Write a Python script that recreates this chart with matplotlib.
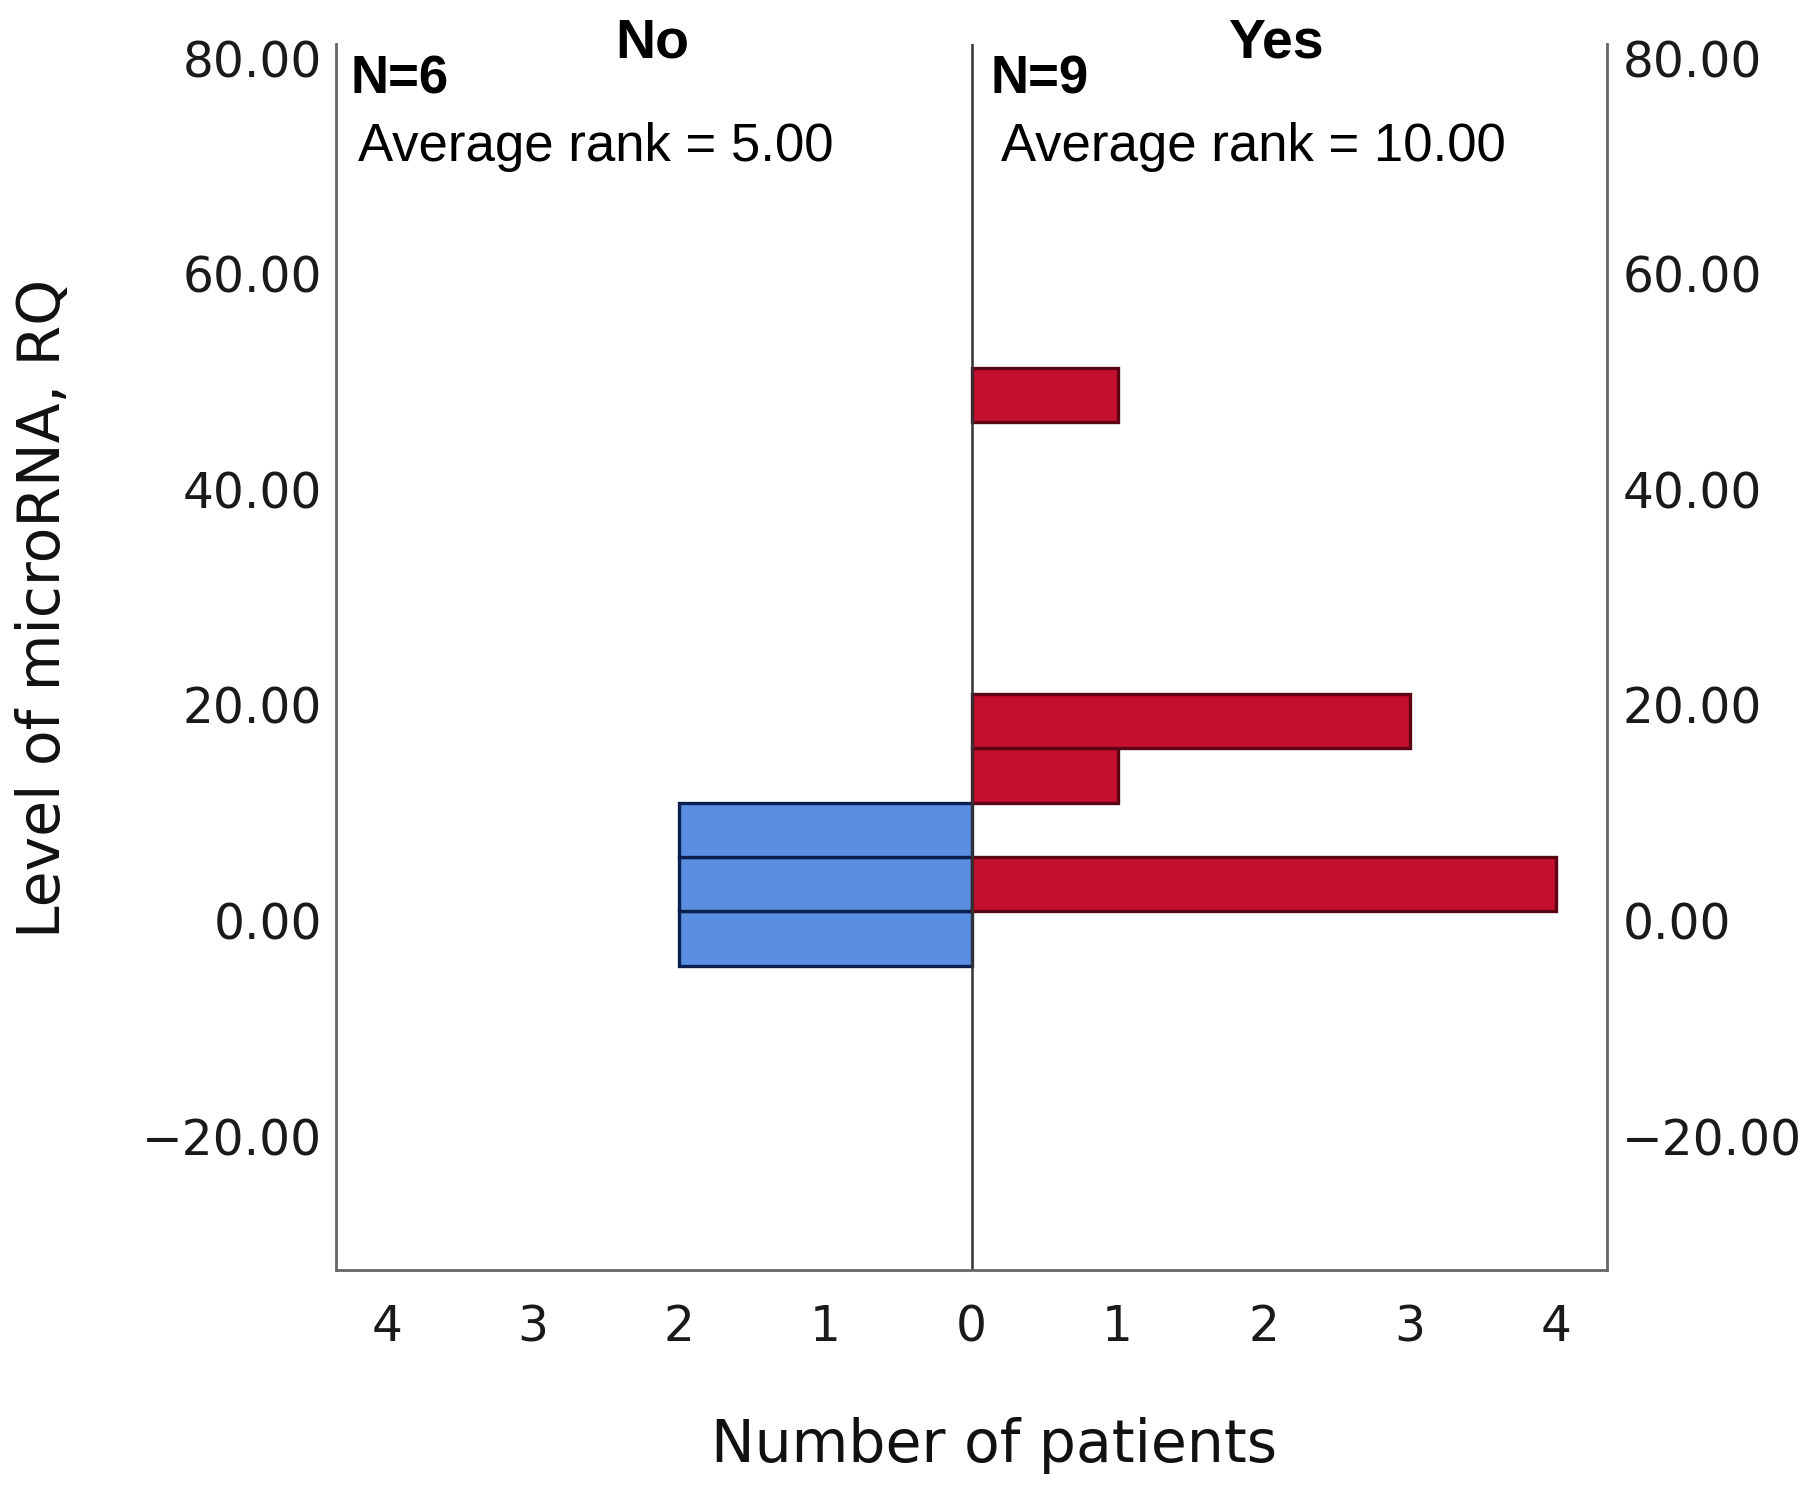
import matplotlib.pyplot as plt
import numpy as np

# histogram bins (lower edge of each bar, RQ units)
bin_width = 5.05
no_bin_low = [-4.2, 0.85, 5.9]
no_counts = [2, 2, 2]
yes_bin_low = [0.85, 10.95, 16.0, 46.2]
yes_counts = [4, 1, 3, 1]

y_ticks = [-20, 0, 20, 40, 60, 80]
x_ticks = [-4, -3, -2, -1, 0, 1, 2, 3, 4]


def fmt(v):
    return ('%.2f' % v).replace('-', '\u2212')


W, H = 1811, 1498
fig = plt.figure(figsize=(W / 100, H / 100), dpi=100)
ax = fig.add_axes([336 / W, 1 - 1270 / H, (1607 - 336) / W, (1270 - 44) / H])

ax.barh(no_bin_low, [-c for c in no_counts], height=bin_width, align='edge',
        color='#5a8ee0', edgecolor='#0b1f4f', linewidth=2.4)
ax.barh(yes_bin_low, yes_counts, height=bin_width, align='edge',
        color='#c4102f', edgecolor='#5c0414', linewidth=2.4)

ax.axvline(0, color='#333333', linewidth=1.8)

ax.set_xlim(-4.35, 4.35)
ax.set_ylim(-32.4, 81.3)

ax.set_yticks(y_ticks)
ax.set_yticklabels([fmt(v) for v in y_ticks])
ax.set_xticks(x_ticks)
ax.set_xticklabels([str(abs(v)) for v in x_ticks])

for s in ['left', 'right', 'bottom']:
    ax.spines[s].set_color('#666666')
    ax.spines[s].set_linewidth(2.0)
ax.spines['top'].set_visible(False)

ax.tick_params(axis='y', length=0, pad=10, labelsize=35, colors='#1a1a1a')
ax.tick_params(axis='x', length=0, pad=24, labelsize=35, colors='#1a1a1a')

ax2 = ax.twinx()
ax2.set_ylim(ax.get_ylim())
ax2.set_yticks(y_ticks)
ax2.set_yticklabels([fmt(v) for v in y_ticks])
ax2.tick_params(axis='y', length=0, pad=11, labelsize=35, colors='#1a1a1a')
for s in ['left', 'right', 'bottom', 'top']:
    ax2.spines[s].set_visible(False)

arial = ['Liberation Sans', 'DejaVu Sans']
fig.text(652 / W, 1 - 43 / H, 'No', ha='center', va='center', fontsize=40,
         fontweight='bold', family=arial)
fig.text(1276 / W, 1 - 43 / H, 'Yes', ha='center', va='center', fontsize=40,
         fontweight='bold', family=arial)

fig.text(350 / W, 1 - 80 / H, 'N=6', ha='left', va='center', fontsize=38,
         fontweight='bold', family=arial)
fig.text(991 / W, 1 - 80 / H, 'N=9', ha='left', va='center', fontsize=38,
         fontweight='bold', family=arial)
fig.text(358 / W, 1 - 147 / H, 'Average rank = 5.00', ha='left', va='center',
         fontsize=38, family=arial)
fig.text(1001 / W, 1 - 147 / H, 'Average rank = 10.00', ha='left', va='center',
         fontsize=38, family=arial)

fig.text(994 / W, 1 - 1446 / H, 'Number of patients', ha='center', va='center',
         fontsize=42, color='#111111')
fig.text(44 / W, 1 - 608 / H, 'Level of microRNA, RQ', ha='center', va='center',
         rotation=90, fontsize=42, color='#111111')

fig.savefig('out.png', dpi=100, facecolor='white')
